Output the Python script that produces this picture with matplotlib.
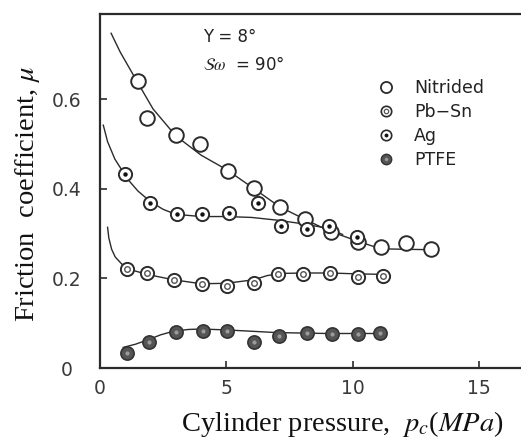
import matplotlib
matplotlib.use("Agg")
import matplotlib.pyplot as plt
from matplotlib.lines import Line2D

plt.rcParams["mathtext.fontset"] = "stix"

nit_x = [1.5, 1.85, 3.0, 3.95, 5.05, 6.1, 7.12, 8.1, 9.15, 10.2, 11.12, 12.1, 13.1]
nit_y = [0.641, 0.559, 0.52, 0.50, 0.44, 0.402, 0.359, 0.332, 0.303, 0.281, 0.269, 0.28, 0.265]

pbsn_x = [1.05, 1.87, 2.93, 4.02, 5.01, 6.09, 7.06, 8.05, 9.1, 10.2, 11.2]
pbsn_y = [0.222, 0.212, 0.197, 0.187, 0.183, 0.189, 0.209, 0.209, 0.211, 0.203, 0.206]

ag_x = [0.99, 1.98, 3.03, 4.02, 5.12, 6.25, 7.17, 8.18, 9.06, 10.18]
ag_y = [0.432, 0.369, 0.343, 0.343, 0.345, 0.368, 0.318, 0.31, 0.317, 0.293]

ptfe_x = [1.08, 1.95, 3.0, 4.06, 5.01, 6.09, 7.1, 8.18, 9.17, 10.2, 11.1]
ptfe_y = [0.033, 0.058, 0.081, 0.083, 0.083, 0.057, 0.072, 0.077, 0.075, 0.075, 0.077]

# hand-drawn trend curves
nit_cx = [0.44, 0.8, 1.45, 2.1, 3.0, 4.0, 5.0, 6.1, 7.1, 8.1, 9.1, 10.2, 11.1, 12.0, 13.1]
nit_cy = [0.747, 0.705, 0.641, 0.578, 0.518, 0.475, 0.443, 0.40, 0.36, 0.332, 0.305, 0.283, 0.266, 0.265, 0.264]

ag_cx = [0.13, 0.3, 0.59, 1.1, 1.5, 2.0, 2.5, 3.0, 4.0, 5.0, 6.0, 7.0, 8.0, 9.0, 9.6]
ag_cy = [0.542, 0.505, 0.466, 0.421, 0.395, 0.371, 0.354, 0.343, 0.338, 0.338, 0.336, 0.330, 0.322, 0.312, 0.298]

pbsn_cx = [0.3, 0.35, 0.46, 0.6, 0.86, 1.3, 1.85, 2.9, 4.0, 5.0, 6.1, 6.6, 7.1, 8.1, 9.1, 10.2, 11.2]
pbsn_cy = [0.314, 0.29, 0.265, 0.248, 0.232, 0.218, 0.209, 0.197, 0.188, 0.189, 0.197, 0.206, 0.211, 0.212, 0.212, 0.21, 0.209]

ptfe_cx = [0.92, 1.4, 1.85, 2.4, 2.9, 3.5, 4.0, 5.0, 6.0, 7.0, 8.0, 9.0, 10.0, 11.1]
ptfe_cy = [0.046, 0.053, 0.062, 0.074, 0.082, 0.086, 0.087, 0.085, 0.082, 0.079, 0.078, 0.077, 0.077, 0.077]

labels = ["Nitrided", "Pb\u2212Sn", "Ag", "PTFE"]

ink = "#2b2b2b"

fig = plt.figure(figsize=(5.21, 4.41), dpi=100)
ax = fig.add_axes([100 / 521, 1 - 368 / 441, 421 / 521, 354 / 441])

# curves
for cx, cy in [(nit_cx, nit_cy), (ag_cx, ag_cy), (pbsn_cx, pbsn_cy), (ptfe_cx, ptfe_cy)]:
    ax.plot(cx, cy, color=ink, lw=1.0, zorder=2)

# markers
ax.plot(nit_x, nit_y, "o", ms=10.5, mfc="white", mec=ink, mew=1.4, zorder=3)
ax.plot(pbsn_x, pbsn_y, "o", ms=9.5, mfc="white", mec=ink, mew=1.4, zorder=3)
ax.plot(pbsn_x, pbsn_y, "o", ms=4, mfc="white", mec="#555555", mew=1.0, zorder=4)
ax.plot(ag_x, ag_y, "o", ms=9.5, mfc="white", mec=ink, mew=1.4, zorder=3)
ax.plot(ag_x, ag_y, "o", ms=3.2, mfc="#111111", mec="#111111", mew=0, zorder=4)
ax.plot(ptfe_x, ptfe_y, "o", ms=9.5, mfc="#555555", mec="#333333", mew=1.2, zorder=3)
ax.plot(ptfe_x, ptfe_y, "o", ms=3, mfc="#9a9a9a", mec="none", zorder=4)

ax.set_xlim(0, 16.66)
ax.set_ylim(0, 0.79)
ax.set_xticks([0, 5, 10, 15])
ax.set_xticklabels(["0", "5", "10", "15"])
ax.set_yticks([0, 0.2, 0.4, 0.6])
ax.set_yticklabels(["0", "0.2", "0.4", "0.6"])
ax.tick_params(direction="in", length=5, width=1.2, color=ink,
               labelsize=13.5, labelcolor="#3a3a3a")
ax.tick_params(axis="x", pad=8)
ax.tick_params(axis="y", pad=24)
for lab in ax.get_yticklabels():
    lab.set_ha("center")

ax.spines["right"].set_visible(False)
for s in ["left", "top", "bottom"]:
    ax.spines[s].set_linewidth(1.6)
    ax.spines[s].set_color(ink)

# legend
h_nit = Line2D([], [], ls="none", marker="o", ms=8, mfc="white", mec=ink, mew=1.3)
h_pb = (Line2D([], [], ls="none", marker="o", ms=7.5, mfc="white", mec=ink, mew=1.2),
        Line2D([], [], ls="none", marker="o", ms=3.2, mfc="white", mec="#555555", mew=0.9))
h_ag = (Line2D([], [], ls="none", marker="o", ms=7.5, mfc="white", mec=ink, mew=1.2),
        Line2D([], [], ls="none", marker="o", ms=2.8, mfc="#111111", mec="#111111", mew=0))
h_pt = (Line2D([], [], ls="none", marker="o", ms=7.5, mfc="#555555", mec="#333333", mew=1.0),
        Line2D([], [], ls="none", marker="o", ms=2.5, mfc="#9a9a9a", mec="none"))
ax.legend([h_nit, h_pb, h_ag, h_pt], labels, loc="upper left",
          bbox_to_anchor=(377 / 521, 1 - 79 / 441), bbox_transform=fig.transFigure,
          frameon=False, fontsize=12.5, handlelength=1.0, handletextpad=1.15,
          labelspacing=0.34, borderpad=0, borderaxespad=0, labelcolor="#222222")

# condition notes
ax.text(203, 441 - 37, "\u03a5 = 8\u00b0", transform=None, fontsize=12,
        color="#222222", va="center", ha="left")
ax.text(203, 441 - 65, r"$\mathcal{S}\omega$  = 90" + "\u00b0",
        transform=None, fontsize=12, color="#222222", va="center", ha="left")

# axis titles
fig.text(342 / 521, 1 - 424 / 441, r"Cylinder pressure,  $p_c$($MPa$)",
         family="Liberation Serif", fontsize=20.5, ha="center", va="center", color="#111111")
fig.text(28 / 521, 1 - 194 / 441, r"Friction  coefficient, $\mu$", rotation=90,
         family="Liberation Serif", fontsize=20.5, ha="center", va="center", color="#111111")

fig.savefig("out.png", dpi=100)
